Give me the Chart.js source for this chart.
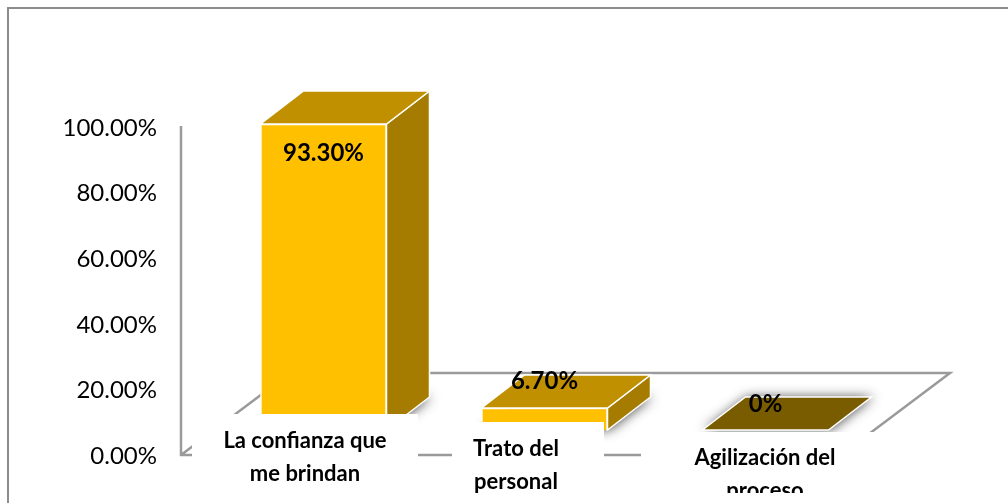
<!DOCTYPE html>
<html>
<head>
<meta charset="utf-8">
<script src="https://cdn.jsdelivr.net/npm/chart.js@4/dist/chart.umd.min.js"></script>
<style>
  html, body { margin: 0; padding: 0; background: #fff; }
  canvas { display: block; }
</style>
</head>
<body>
<canvas id="myChart" width="1008" height="503"></canvas>
<script>
// Chart data
const categories = [['La confianza que', 'me brindan'], ['Trato del', 'personal'], ['Agilización del', 'proceso']];
const values = [93.3, 6.7, 0];
const valueLabels = ['93.30%', '6.70%', '0%'];
const yTickLabels = ['0.00%', '20.00%', '40.00%', '60.00%', '80.00%', '100.00%'];

// Colours of the 3D faces, one per bar
const frontColors = ['#FFC000', '#FFC000', '#FFC000'];
const topColors = ['#C09000', '#C09000', '#7A5C00'];
const sideColors = ['#A67C00', '#A67C00', '#A67C00'];

// Depth of the bars and how far the bars sit in front of the axis zero
const depthX = 43;
const depthY = 33;
const floorLift = 26;
const floorDepthX = 109;
const floorDepthY = 82;

// White boxes behind the category labels, and where the labels go
const labelBoxes = [
    { x: 192, y: 414, w: 226, h: 89 },
    { x: 452, y: 422, w: 152, h: 81 },
    { x: 641, y: 432, w: 250, h: 61 }
];
const labelSpots = [
    { x: 305, y: 441 },
    { x: 516, y: 449 },
    { x: 765, y: 458 }
];
const valueLabelShift = [29, -27, -26];

const poly = (c, pts, fill, stroke) => {
    c.beginPath();
    pts.forEach((p, i) => i ? c.lineTo(p[0], p[1]) : c.moveTo(p[0], p[1]));
    c.closePath();
    c.fillStyle = fill;
    c.fill();
    if (stroke) {
        c.strokeStyle = stroke;
        c.lineWidth = 1.5;
        c.stroke();
    }
};

const fake3d = {
    id: 'fake3d',
    beforeDatasetsDraw(chart) {
        const c = chart.ctx;
        const y = chart.scales.y;
        const zero = y.getPixelForValue(0) - 1;
        const wallX = 181;
        const floorRight = 841;

        // outer frame, only the top and left sides are in the picture
        c.save();
        c.strokeStyle = '#8c8c8c';
        c.lineWidth = 2;
        c.beginPath();
        c.moveTo(8, 503);
        c.lineTo(8, 8);
        c.lineTo(1008, 8);
        c.stroke();

        // wall line and floor outline
        c.strokeStyle = '#9a9a9a';
        c.lineWidth = 2.5;
        c.beginPath();
        c.moveTo(wallX, y.getPixelForValue(100) - 2);
        c.lineTo(wallX, zero);
        c.lineTo(floorRight, zero);
        c.lineTo(floorRight + floorDepthX, zero - floorDepthY);
        c.lineTo(wallX + floorDepthX, zero - floorDepthY);
        c.lineTo(wallX, zero);
        c.stroke();
        c.restore();

        // soft shadow of each bar on the floor
        const meta = chart.getDatasetMeta(0);
        c.save();
        meta.data.forEach((bar) => {
            const left = bar.x - bar.width / 2;
            const right = bar.x + bar.width / 2;
            const base = bar.base - floorLift;
            c.shadowColor = 'rgba(60,60,60,0.9)';
            c.shadowBlur = 12;
            c.shadowOffsetX = 2;
            poly(c, [[left, base], [right, base], [right + depthX, base - depthY], [left + depthX, base - depthY]], '#777');
        });
        c.restore();

        // bars are drawn lifted off the axis zero
        c.save();
        c.translate(0, -floorLift);
    },
    afterDatasetsDraw(chart) {
        const c = chart.ctx;
        const meta = chart.getDatasetMeta(0);

        // side and top faces, still in the lifted space
        meta.data.forEach((bar, i) => {
            const left = bar.x - bar.width / 2;
            const right = bar.x + bar.width / 2;
            if (bar.base - bar.y > 0.5) {
                poly(c, [[right, bar.y], [right + depthX, bar.y - depthY], [right + depthX, bar.base - depthY], [right, bar.base]], sideColors[i], '#fff');
            }
            poly(c, [[left, bar.y], [right, bar.y], [right + depthX, bar.y - depthY], [left + depthX, bar.y - depthY]], topColors[i], '#fff');
        });
        c.restore();

        // white boxes over the floor, then the labels
        c.save();
        c.fillStyle = '#fff';
        labelBoxes.forEach(b => c.fillRect(b.x, b.y, b.w, b.h));

        c.fillStyle = '#000';
        c.textAlign = 'center';
        c.textBaseline = 'middle';
        c.font = 'bold 24px Lato';
        meta.data.forEach((bar, i) => {
            c.fillText(valueLabels[i], bar.x, bar.y - floorLift + valueLabelShift[i]);
        });

        c.font = 'bold 22px Lato';
        categories.forEach((lines, i) => {
            const b = labelBoxes[i];
            c.save();
            c.beginPath();
            c.rect(b.x, b.y, b.w, b.h);
            c.clip();
            lines.forEach((line, j) => c.fillText(line, labelSpots[i].x, labelSpots[i].y + j * 33));
            c.restore();
        });
        c.restore();
    }
};

new Chart(document.getElementById('myChart'), {
    type: 'bar',
    data: {
        labels: categories,
        datasets: [{
            data: values,
            backgroundColor: frontColors,
            borderColor: '#fff',
            borderWidth: 1.5,
            barThickness: 126,
            clip: false
        }]
    },
    options: {
        responsive: false,
        animation: false,
        layout: { padding: { top: 128, right: 132, bottom: 0, left: 0 } },
        plugins: { legend: { display: false }, tooltip: { enabled: false } },
        scales: {
            x: {
                grid: { display: false },
                border: { display: false },
                ticks: { display: false },
                afterFit: (scale) => { scale.height = 47; }
            },
            y: {
                min: 0,
                max: 100,
                grid: { display: false, drawTicks: false },
                border: { display: false },
                ticks: {
                    stepSize: 20,
                    padding: 56,
                    color: '#000',
                    font: { family: 'Lato', size: 24 },
                    callback: (value, i) => yTickLabels[i]
                },
                afterFit: (scale) => {
                    scale.width = 213;
                    // tick padding would otherwise push the plot area in
                    scale.paddingTop = 0;
                    scale.paddingBottom = 0;
                }
            }
        }
    },
    plugins: [fake3d]
});
</script>
</body>
</html>
